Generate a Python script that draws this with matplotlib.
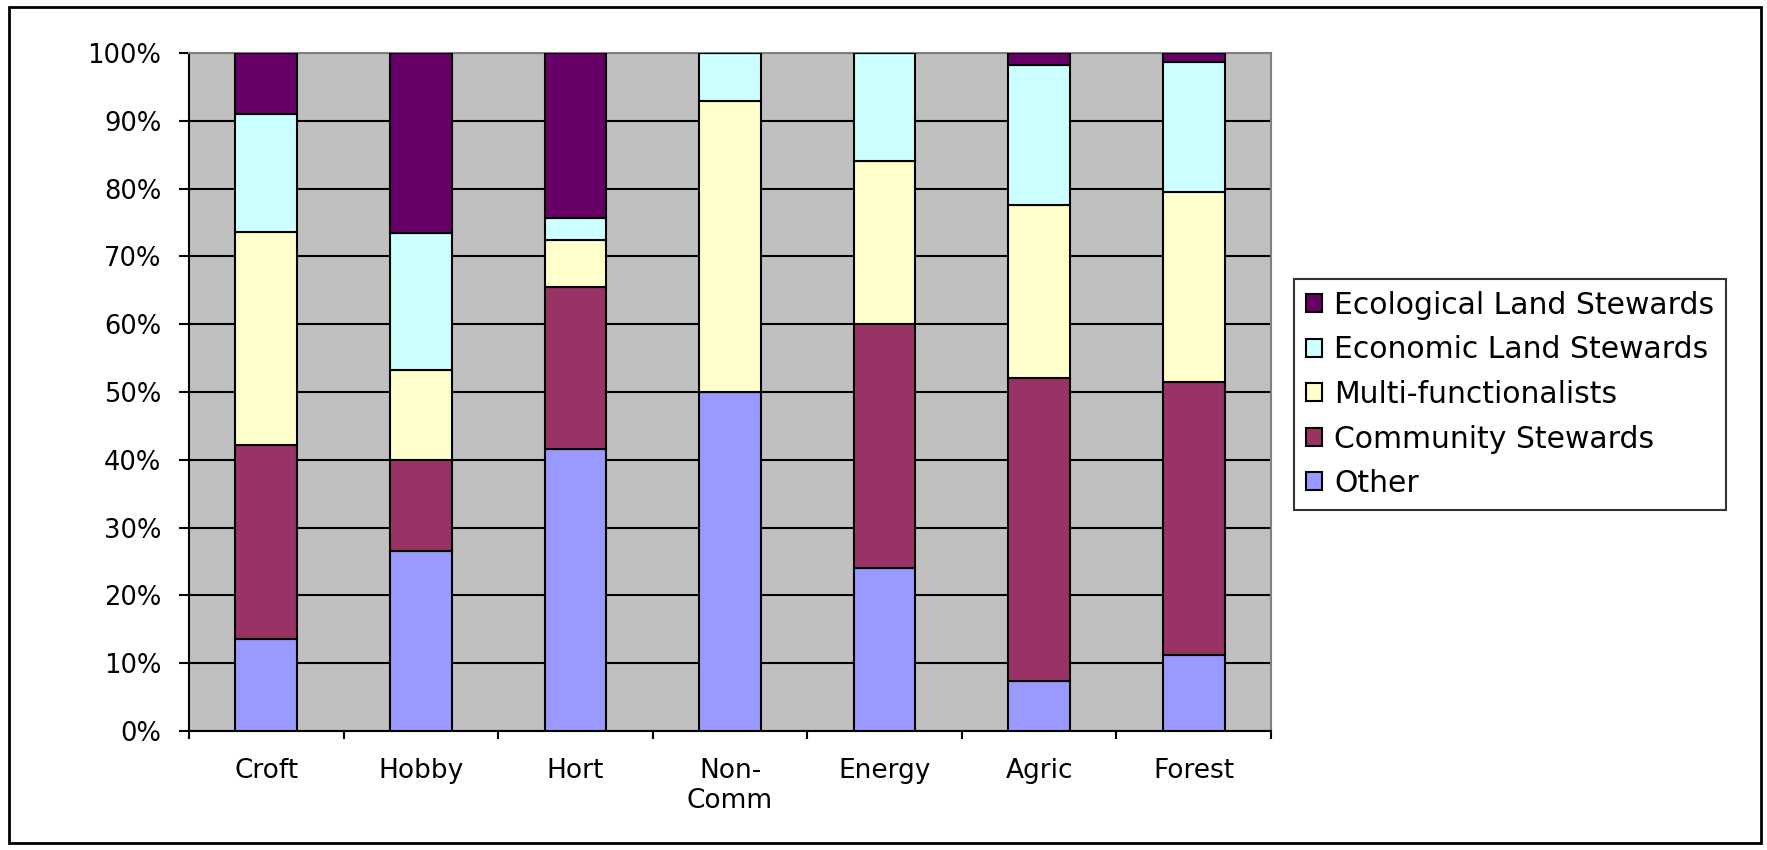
import numpy as np
import matplotlib.pyplot as plt
from matplotlib.patches import Rectangle

plt.rcParams['font.family'] = ['DejaVu Sans']

categories = ['Croft', 'Hobby', 'Hort', 'Non-\nComm', 'Energy', 'Agric', 'Forest']

# percent shares, bottom to top
other = [13.5, 26.5, 41.6, 50.0, 24.0, 7.4, 11.2]
community = [28.7, 13.5, 23.9, 0.0, 36.1, 44.7, 40.3]
multi = [31.4, 13.3, 6.9, 42.9, 23.9, 25.5, 28.0]
economic = [17.4, 20.1, 3.3, 7.1, 16.0, 20.7, 19.1]
ecological = [9.0, 26.6, 24.3, 0.0, 0.0, 1.7, 1.4]

series = [
    ('Other', other, '#9999FF'),
    ('Community Stewards', community, '#993366'),
    ('Multi-functionalists', multi, '#FFFFCC'),
    ('Economic Land Stewards', economic, '#CCFFFF'),
    ('Ecological Land Stewards', ecological, '#660066'),
]

fig = plt.figure(figsize=(17.67, 8.5), dpi=100)
ax = fig.add_axes([189/1767, 1 - 731/850, (1271-189)/1767, (731-53)/850])
ax.set_facecolor('#C0C0C0')

x = np.arange(len(categories))
bottom = np.zeros(len(categories))
handles = []
for name, vals, col in series:
    vals = np.array(vals)
    b = ax.bar(x, vals, 0.4, bottom=bottom, color=col, edgecolor='black',
               linewidth=1.5, label=name, zorder=3)
    handles.append(b)
    bottom += vals

ax.set_xlim(-0.5, len(categories) - 0.5)
ax.set_ylim(0, 100)
ax.set_yticks(np.arange(0, 101, 10))
ax.set_yticklabels([f'{v}%' for v in range(0, 101, 10)])
ax.yaxis.grid(True, color='black', linewidth=1.5, zorder=1)
ax.set_axisbelow(True)

ax.set_xticks(x)
ax.set_xticklabels(categories)
ax.set_xticks(np.arange(-0.5, len(categories)), minor=True)
ax.tick_params(axis='x', which='major', length=0, pad=19.5, labelsize=19)
ax.tick_params(axis='x', which='minor', length=6, width=1.5, direction='out')
ax.tick_params(axis='y', length=7, width=1.5, direction='out', labelsize=18.5, pad=13)

for s in ['top', 'right']:
    ax.spines[s].set_color('#808080')
    ax.spines[s].set_linewidth(1.5)
for s in ['left', 'bottom']:
    ax.spines[s].set_color('black')
    ax.spines[s].set_linewidth(1.5)

leg = ax.legend(handles[::-1], [s[0] for s in series][::-1],
                loc='upper left', bbox_to_anchor=(1294/1767, 1 - 279/850),
                bbox_transform=fig.transFigure, fontsize=21.5, frameon=True,
                fancybox=False, edgecolor='black', handlelength=0.55,
                handleheight=0.55, handletextpad=0.4, labelspacing=0.52,
                borderpad=0.4, borderaxespad=0)
leg.get_frame().set_linewidth(1.5)

fig.patches.append(Rectangle((9/1767, 7/850), (1761-9)/1767, (843-7)/850,
                             transform=fig.transFigure, fill=False,
                             edgecolor='black', linewidth=2))

fig.savefig('out.png', dpi=100)
